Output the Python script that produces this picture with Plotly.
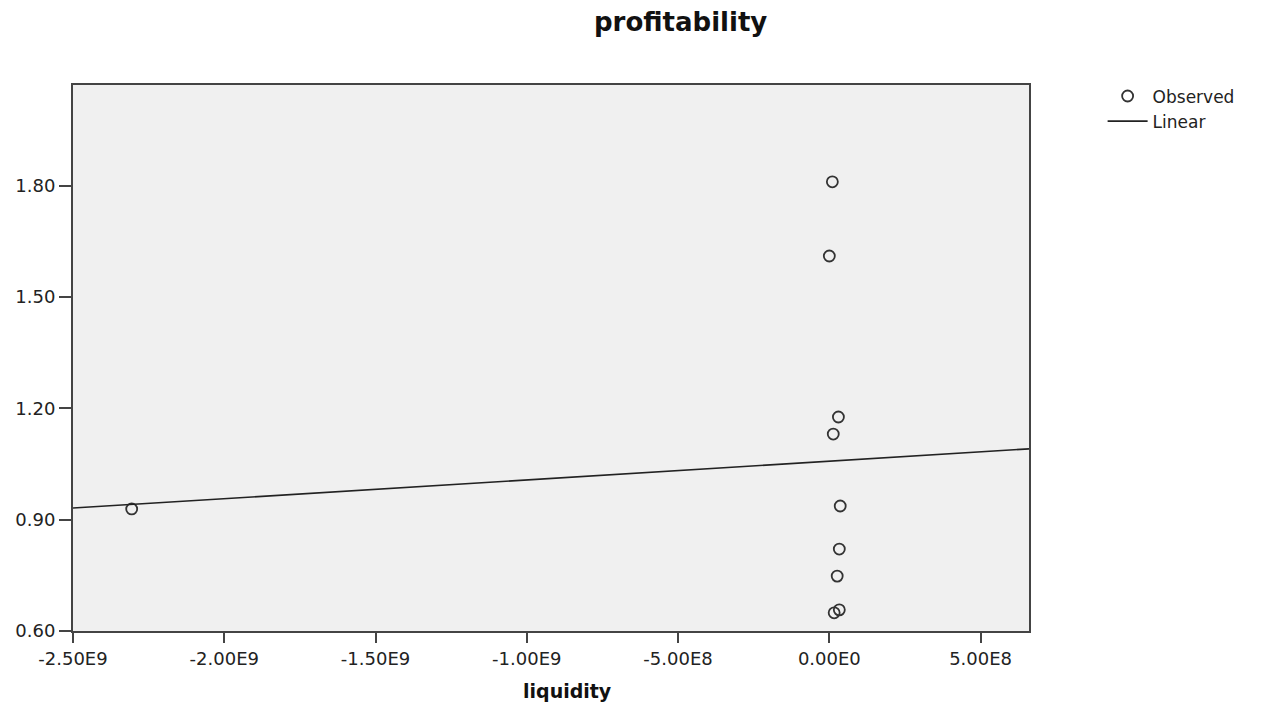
import numpy as np
import plotly.graph_objects as go

# Data
liquidity = [1.0e7, 0.0, 3.0e7, 1.3e7, 3.6e7, 3.3e7, 2.6e7, 3.3e7, 1.6e7, -2.306e9]
profitability = [1.811, 1.611, 1.177, 1.131, 0.937, 0.821, 0.748, 0.657, 0.649, 0.929]

x_tickvals = [-2.5e9, -2.0e9, -1.5e9, -1.0e9, -5.0e8, 0.0, 5.0e8]
x_ticktext = ["-2.50E9", "-2.00E9", "-1.50E9", "-1.00E9", "-5.00E8", "0.00E0", "5.00E8"]
y_tickvals = [0.60, 0.90, 1.20, 1.50, 1.80]
y_ticktext = ["0.60", "0.90", "1.20", "1.50", "1.80"]

x_range = [-2.5e9, 6.6e8]
y_range = [0.60, 2.072]

# Linear fit
slope, intercept = np.polyfit(liquidity, profitability, 1)
fit_x = np.array(x_range)
fit_y = slope * fit_x + intercept

font_family = "DejaVu Sans, Verdana, sans-serif"

fig = go.Figure()
fig.add_trace(go.Scatter(
    x=liquidity, y=profitability, mode="markers", name="Observed",
    marker=dict(symbol="circle-open", size=11, color="#333333",
                line=dict(width=1.8, color="#333333")),
))
fig.add_trace(go.Scatter(
    x=fit_x, y=fit_y, mode="lines", name="Linear",
    line=dict(color="#222222", width=1.6),
))

fig.update_layout(
    width=1277, height=705,
    margin=dict(l=65, r=256, t=77, b=82),
    paper_bgcolor="white",
    plot_bgcolor="#f0f0f0",
    font=dict(family=font_family, size=16, color="#222222"),
    showlegend=True,
    legend=dict(x=1.077, y=1.012, xanchor="left", yanchor="top",
                bgcolor="rgba(0,0,0,0)", font=dict(size=17, color="#222222"),
                tracegroupgap=0, itemwidth=40),
    annotations=[
        dict(text="<b>profitability</b>", x=0.635, y=1.115, xref="paper", yref="paper",
             xanchor="center", yanchor="middle", showarrow=False,
             font=dict(size=26, family=font_family, color="#111111")),
        dict(text="<b>liquidity</b>", x=0.517, y=-0.11, xref="paper", yref="paper",
             xanchor="center", yanchor="middle", showarrow=False,
             font=dict(size=19, family=font_family, color="#111111")),
    ],
)
fig.update_xaxes(
    range=x_range, tickvals=x_tickvals, ticktext=x_ticktext,
    showgrid=False, zeroline=False, automargin=False,
    showline=True, linecolor="#444444", linewidth=2, mirror=True,
    ticks="outside", ticklen=10, tickcolor="#444444", tickwidth=2,
    tickfont=dict(size=18, color="#222222"),
)
fig.update_yaxes(
    range=y_range, tickvals=y_tickvals, ticktext=y_ticktext,
    showgrid=False, zeroline=False, automargin=False,
    showline=True, linecolor="#444444", linewidth=2, mirror=True,
    ticks="outside", ticklen=12, tickcolor="#444444", tickwidth=2,
    tickfont=dict(size=18, color="#222222"),
)

fig.write_html("out.html")
